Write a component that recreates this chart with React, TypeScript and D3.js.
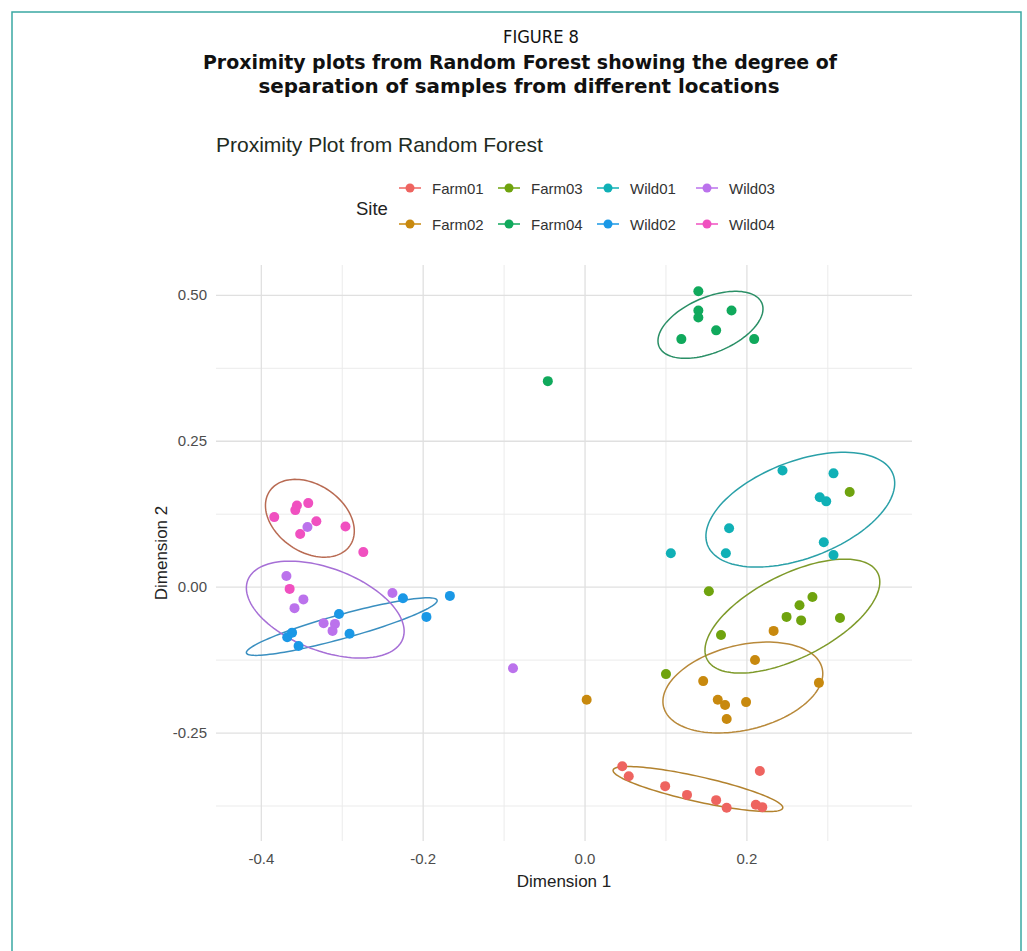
import React from 'react'
import * as d3 from 'd3'

// sites, in legend order
const sites = ['Farm01', 'Farm02', 'Farm03', 'Farm04', 'Wild01', 'Wild02', 'Wild03', 'Wild04']
const siteColors = ['#ee6460', '#c8890e', '#6fa30e', '#10a95c', '#10b0b6', '#1a98e6', '#bb72ec', '#f050c0']

// proximity coordinates [Dimension 1, Dimension 2]
const farm01 = [[0.046, -0.307], [0.054, -0.324], [0.099, -0.341], [0.126, -0.356], [0.162, -0.365], [0.175, -0.378], [0.211, -0.373], [0.219, -0.377], [0.216, -0.315]]
const farm02 = [[0.233, -0.075], [0.210, -0.125], [0.146, -0.161], [0.164, -0.193], [0.173, -0.202], [0.199, -0.197], [0.175, -0.226], [0.289, -0.164], [0.002, -0.193]]
const farm03 = [[0.327, 0.163], [0.153, -0.007], [0.281, -0.017], [0.265, -0.031], [0.249, -0.051], [0.267, -0.057], [0.315, -0.053], [0.168, -0.082], [0.100, -0.149]]
const farm04 = [[0.140, 0.507], [0.140, 0.474], [0.140, 0.462], [0.181, 0.474], [0.162, 0.440], [0.119, 0.425], [0.209, 0.425], [-0.046, 0.353]]
const wild01 = [[0.244, 0.200], [0.307, 0.195], [0.290, 0.154], [0.298, 0.147], [0.178, 0.101], [0.106, 0.058], [0.174, 0.058], [0.295, 0.077], [0.307, 0.055]]
const wild02 = [[-0.368, -0.086], [-0.362, -0.078], [-0.354, -0.101], [-0.304, -0.046], [-0.291, -0.080], [-0.225, -0.019], [-0.196, -0.051], [-0.167, -0.015]]
const wild03 = [[-0.343, 0.103], [-0.369, 0.019], [-0.348, -0.021], [-0.359, -0.036], [-0.323, -0.062], [-0.309, -0.063], [-0.312, -0.075], [-0.238, -0.010], [-0.089, -0.139]]
const wild04 = [[-0.384, 0.120], [-0.356, 0.140], [-0.358, 0.132], [-0.342, 0.144], [-0.332, 0.113], [-0.352, 0.091], [-0.296, 0.104], [-0.274, 0.060], [-0.365, -0.003]]
const siteData = [farm01, farm02, farm03, farm04, wild01, wild02, wild03, wild04]

// confidence ellipses: centre and two conjugate semi-axes, in data units
const ellipseCx = [0.1395, 0.195, 0.2562, 0.155, 0.266, -0.3006, -0.321, -0.340]
const ellipseCy = [-0.346, -0.172, -0.0497, 0.4495, 0.1327, -0.0676, -0.0385, 0.118]
const ellipseMajor = [[0.1048, -0.0325], [0.098, 0.0329], [0.1055, 0.0739], [0.0635, 0.0372], [0.1147, 0.0604], [0.1178, 0.0452], [0.0958, -0.0502], [0.0497, -0.0465]]
const ellipseMinor = [[-0.0034, -0.0209], [0.0123, -0.0706], [0.0232, -0.0638], [0.0133, -0.0437], [0.0212, -0.0776], [0.004, -0.0198], [-0.018, -0.0661], [-0.0233, -0.0478]]
const ellipseColors = ['#b2822e', '#b8893a', '#7e9a2a', '#2a8f66', '#2aa0a8', '#3a8fc0', '#a66fd6', '#b86a52']

const xMajor = [-0.4, -0.2, 0.0, 0.2]
const xMinor = [-0.3, -0.1, 0.1, 0.3]
const yMajor = [0.5, 0.25, 0.0, -0.25]
const yMinor = [0.375, 0.125, -0.125, -0.375]

const W = 1027
const H = 951

export default function App() {
  const x = d3.scaleLinear().domain([-0.456, 0.404]).range([216, 912])
  const y = d3.scaleLinear().domain([-0.435, 0.552]).range([841, 265])
  const [x0, x1] = x.range()
  const [y0, y1] = y.range()

  const line = d3.line<number[]>()
    .x(d => x(d[0]))
    .y(d => y(d[1]))
    .curve(d3.curveLinearClosed)

  const ellipsePath = (i: number) => {
    const pts = d3.range(0, 2 * Math.PI, Math.PI / 60).map(t => [
      ellipseCx[i] + Math.cos(t) * ellipseMajor[i][0] + Math.sin(t) * ellipseMinor[i][0],
      ellipseCy[i] + Math.cos(t) * ellipseMajor[i][1] + Math.sin(t) * ellipseMinor[i][1],
    ])
    return line(pts) || ''
  }

  const fmtX = d3.format('.1f')
  const fmtY = d3.format('.2f')
  const minus = (s: string) => s.replace('−', '-')

  const plotFont = '"Liberation Sans", Arial, sans-serif'
  const headFont = '"Liberation Sans Narrow", "DejaVu Sans Condensed", "Open Sans", sans-serif'

  return (
    <svg width={W} height={H} style={{ position: 'absolute', left: 0, top: 0, background: '#fff' }}>
      <rect x={12} y={12} width={1009} height={960} fill="none" stroke="#3aa8a2" strokeWidth={1.5} />

      <g fontFamily={headFont} fill="#111" textAnchor="middle">
        <text x={541} y={43} fontSize={18} textLength={76} lengthAdjust="spacingAndGlyphs">FIGURE 8</text>
        <text x={520} y={69} fontSize={19} fontWeight="bold" textLength={634} lengthAdjust="spacingAndGlyphs">Proximity plots from Random Forest showing the degree of</text>
        <text x={519} y={93} fontSize={19} fontWeight="bold" textLength={521} lengthAdjust="spacingAndGlyphs">separation of samples from different locations</text>
      </g>

      <text x={216} y={152} fontFamily={plotFont} fontSize={21} fill="#1e2b22">Proximity Plot from Random Forest</text>

      {/* legend */}
      <g fontFamily={plotFont}>
        <text x={356} y={215} fontSize={18.5} fill="#222">Site</text>
        {sites.map((s, i) => {
          const col = Math.floor(i / 2)
          const row = i % 2
          const kx = 410 + col * 99
          const ky = 188 + row * 36
          return (
            <g key={s}>
              <line x1={kx - 11} x2={kx + 11} y1={ky} y2={ky} stroke={siteColors[i]} strokeWidth={1.5} />
              <circle cx={kx} cy={ky} r={4.5} fill={siteColors[i]} />
              <text x={kx + 22} y={ky + 5.5} fontSize={15} fill="#333">{s}</text>
            </g>
          )
        })}
      </g>

      {/* grid */}
      <g>
        {xMinor.map(v => <line key={'xm' + v} x1={x(v)} x2={x(v)} y1={y1} y2={y0} stroke="#ebebeb" strokeWidth={1} />)}
        {yMinor.map(v => <line key={'ym' + v} x1={x0} x2={x1} y1={y(v)} y2={y(v)} stroke="#ebebeb" strokeWidth={1} />)}
        {xMajor.map(v => <line key={'xM' + v} x1={x(v)} x2={x(v)} y1={y1} y2={y0} stroke="#e0e0e0" strokeWidth={1.3} />)}
        {yMajor.map(v => <line key={'yM' + v} x1={x0} x2={x1} y1={y(v)} y2={y(v)} stroke="#e0e0e0" strokeWidth={1.3} />)}
      </g>

      {/* axes labels */}
      <g fontFamily={plotFont} fontSize={15} fill="#4d4d4d">
        {xMajor.map(v => (
          <text key={'xt' + v} x={x(v)} y={864} textAnchor="middle">{minus(fmtX(v))}</text>
        ))}
        {yMajor.map(v => (
          <text key={'yt' + v} x={207} y={y(v) + 5} textAnchor="end">{minus(fmtY(v))}</text>
        ))}
      </g>
      <text x={(x0 + x1) / 2} y={887} textAnchor="middle" fontFamily={plotFont} fontSize={17} fill="#222">Dimension 1</text>
      <text transform={`translate(167,${(y0 + y1) / 2}) rotate(-90)`} textAnchor="middle" fontFamily={plotFont} fontSize={17} fill="#222">Dimension 2</text>

      {/* ellipses */}
      <g fill="none" strokeWidth={1.5}>
        {ellipseCx.map((_, i) => <path key={'e' + i} d={ellipsePath(i)} stroke={ellipseColors[i]} />)}
      </g>

      {/* points */}
      <g>
        {siteData.map((pts, i) => pts.map((p, j) => (
          <circle key={sites[i] + j} cx={x(p[0])} cy={y(p[1])} r={5} fill={siteColors[i]} />
        )))}
      </g>
    </svg>
  )
}
